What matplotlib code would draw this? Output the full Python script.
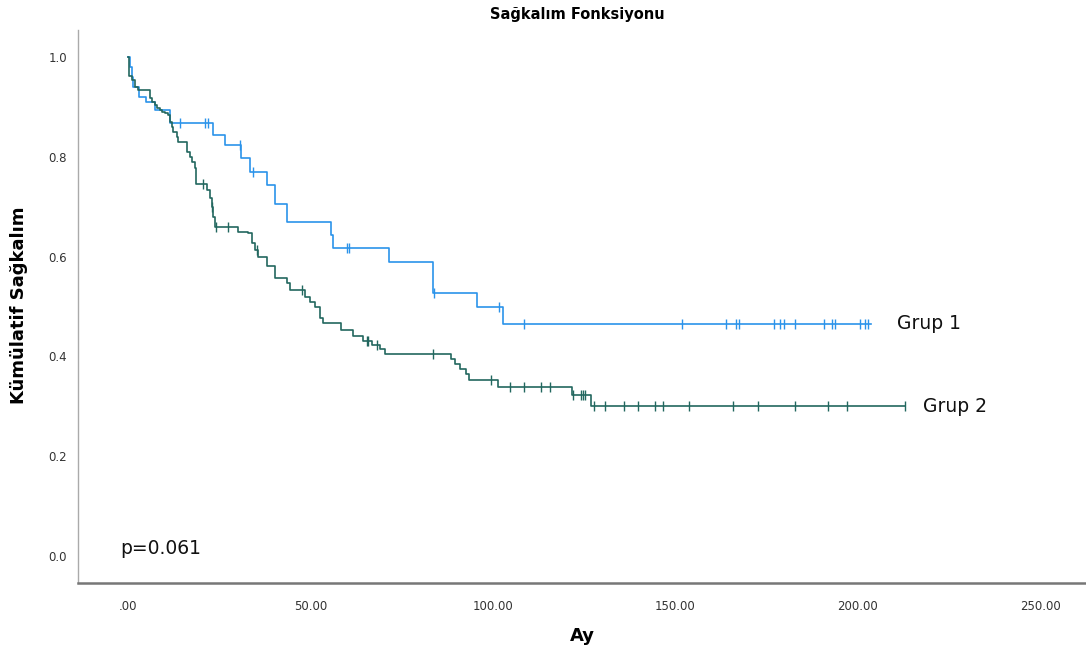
import numpy as np
import matplotlib
matplotlib.use("Agg")
import matplotlib.pyplot as plt

# Grup 1 (mavi) - olay zamanlari ve sagkalim
grup1_t = [0, 0.5, 1, 1.5, 3, 5, 7.4, 11.5, 23.4, 26.6, 31.1, 33.4, 38.0, 40.3,
           43.5, 55.6, 56.2, 71.5, 83.6, 95.7, 102.7]
grup1_s = [1.0, 0.98, 0.96, 0.94, 0.92, 0.91, 0.894, 0.867, 0.844, 0.824, 0.797,
           0.77, 0.743, 0.705, 0.67, 0.643, 0.617, 0.589, 0.527, 0.499, 0.464]
grup1_cens = [14.2, 21.1, 21.9, 30.7, 34.3, 60.0, 60.5, 83.8, 101.7, 108.5, 151.7,
              163.8, 166.6, 167.5, 177.0, 178.6, 179.7, 182.7, 190.7, 192.8, 193.7,
              200.7, 201.9, 202.8]
grup1_son = 203.7

# Grup 2 (koyu yesil)
grup2_t = [0, 0.3, 1.0, 1.9, 2.8, 6.0, 6.5, 7.4, 7.9, 8.8, 9.2, 10.1, 11.0, 11.5,
           12.0, 12.4, 13.3, 13.8, 16.1, 17.0, 17.4, 18.4, 18.6, 21.6, 22.5, 22.9,
           23.4, 23.8, 30.2, 33.0, 33.9, 34.8, 35.7, 38.0, 40.3, 43.5, 44.4, 48.5,
           49.9, 51.2, 52.6, 53.5, 58.5, 61.7, 64.5, 66.8, 69.0, 70.4, 88.5, 89.5,
           91.0, 92.5, 93.5, 101.4, 121.6, 126.8]
grup2_s = [1.0, 0.961, 0.954, 0.94, 0.934, 0.917, 0.91, 0.904, 0.897, 0.894, 0.89,
           0.887, 0.884, 0.87, 0.86, 0.85, 0.84, 0.83, 0.81, 0.80, 0.79, 0.777,
           0.745, 0.733, 0.717, 0.70, 0.68, 0.66, 0.65, 0.647, 0.627, 0.613, 0.60,
           0.581, 0.557, 0.547, 0.533, 0.52, 0.51, 0.50, 0.477, 0.467, 0.453, 0.44,
           0.43, 0.423, 0.415, 0.405, 0.395, 0.385, 0.375, 0.365, 0.353, 0.339,
           0.323, 0.30]
grup2_cens = [20.6, 23.0, 24.1, 27.3, 35.3, 47.6, 65.4, 65.8, 68.1, 83.6, 99.6,
              104.7, 108.5, 113.3, 115.6, 121.8, 124.0, 124.6, 125.2, 127.7, 130.7,
              135.9, 139.8, 144.5, 146.5, 153.8, 165.8, 172.5, 182.7, 191.9, 196.9,
              212.9]
grup2_son = 212.9

xticks = [0, 50, 100, 150, 200, 250]
xtick_labels = ['.00', '50.00', '100.00', '150.00', '200.00', '250.00']
yticks = [0.0, 0.2, 0.4, 0.6, 0.8, 1.0]

renk1 = '#2b93ea'
renk2 = '#22675f'


def ciz(ax, t, s, cens, son, renk):
    t = np.array(t + [son])
    s = np.array(s + [s[-1]])
    ax.step(t, s, where='post', color=renk, lw=1.2)
    c = np.array(cens)
    idx = np.searchsorted(t, c, side='right') - 1
    ax.plot(c, s[idx], ls='none', marker='|', ms=6.5, mew=1.0, color=renk)


fig = plt.figure(figsize=(10.86, 6.57), dpi=100)
ax = fig.add_axes([78 / 1086, 74 / 657, 1 - 78 / 1086, (583 - 30) / 657])

ciz(ax, grup1_t, grup1_s, grup1_cens, grup1_son, renk1)
ciz(ax, grup2_t, grup2_s, grup2_cens, grup2_son, renk2)

ax.set_xlim(-13.7, 262.5)
ax.set_ylim(-0.054, 1.054)
ax.set_xticks(xticks)
ax.set_xticklabels(xtick_labels)
ax.set_yticks(yticks)
ax.set_yticklabels(['%.1f' % v for v in yticks])
ax.tick_params(length=0, labelsize=8.5, colors='#333333')
ax.tick_params(axis='x', pad=12)
ax.tick_params(axis='y', pad=8)

for k in ['top', 'right']:
    ax.spines[k].set_visible(False)
ax.spines['left'].set_color('#aaaaaa')
ax.spines['left'].set_linewidth(1.0)
ax.spines['bottom'].set_color('#777777')
ax.spines['bottom'].set_linewidth(1.8)

ax.text(-2.2, 0.005, 'p=0.061', fontsize=13.5, color='#111111', va='baseline')
ax.text(210.7, 0.465, 'Grup 1', fontsize=13.5, color='#111111', va='center')
ax.text(217.8, 0.30, 'Grup 2', fontsize=13.5, color='#111111', va='center')

fig.text(577 / 1086, 1 - 15 / 657, 'Sağkalım Fonksiyonu', ha='center', va='center',
         fontsize=10.5, fontweight='bold')
fig.text(582 / 1086, 1 - 636 / 657, 'Ay', ha='center', va='center',
         fontsize=13, fontweight='bold')
fig.text(19 / 1086, 1 - 305 / 657, 'Kümülatif Sağkalım', ha='center', va='center',
         rotation=90, fontsize=13, fontweight='bold')

fig.savefig('out.png', dpi=100)
